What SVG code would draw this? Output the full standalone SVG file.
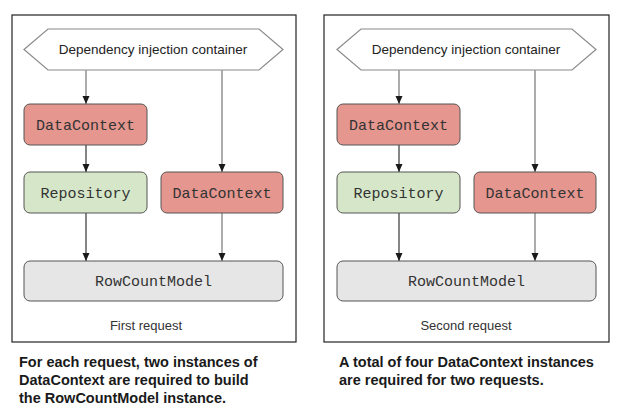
<svg xmlns="http://www.w3.org/2000/svg" width="628" height="411" viewBox="0 0 628 411">
<defs>
<marker id="ah" viewBox="0 0 8 10" refX="8" refY="5" markerWidth="8" markerHeight="10" markerUnits="userSpaceOnUse" orient="auto">
<path d="M0,1.5 L8,5 L0,8.5 Z" fill="#1a1a1a"/>
</marker>
</defs>
<style>
.frame{fill:#fff;stroke:#222;stroke-width:1.2}
.hex{fill:#fff;stroke:#8a8a8a;stroke-width:1.2}
.lbl{font-family:"Liberation Sans",Arial,sans-serif;font-size:13.5px;fill:#222;text-anchor:middle}
.cap{font-family:"Liberation Sans",Arial,sans-serif;font-size:13px;fill:#333;text-anchor:middle}
.mono{font-family:"Liberation Mono","Courier New",monospace;font-size:15px;fill:#333;text-anchor:middle}
.dc{fill:#e5968f;stroke:#555;stroke-width:1}
.rep{fill:#d6e7c9;stroke:#555;stroke-width:1}
.rcm{fill:#e6e6e6;stroke:#555;stroke-width:1}
.c{fill:none;stroke:#444;stroke-width:1.3;marker-end:url(#ah)}
.g{fill:none;stroke:#999;stroke-width:1.6;marker-end:url(#ah)}
.note{font-family:"Liberation Sans",Arial,sans-serif;font-size:14.5px;font-weight:bold;fill:#1a1a1a}
</style>
<g id="panel1">
<rect class="frame" x="12" y="15" width="284" height="327"/>
<g id="di1"><polygon class="hex" points="24,49.5 48,29 259,29 283,49.5 259,70 48,70"/><text class="lbl" x="153" y="54">Dependency injection container</text></g>
<g id="connectors1">
<line class="g" x1="86" y1="70" x2="86" y2="104"/>
<line class="g" x1="222" y1="70" x2="222" y2="172"/>
<line class="c" x1="86" y1="145" x2="86" y2="172"/>
<line class="c" x1="86" y1="213" x2="86" y2="261"/>
<line class="g" x1="222" y1="213" x2="222" y2="261"/>
</g>
<g id="dc1a"><rect class="dc" x="24" y="104" width="123" height="41" rx="6"/><text class="mono" x="85.5" y="129.5">DataContext</text></g>
<g id="rep1"><rect class="rep" x="24" y="172" width="123" height="41" rx="6"/><text class="mono" x="85.5" y="197.5">Repository</text></g>
<g id="dc1b"><rect class="dc" x="161" y="172" width="122" height="41" rx="6"/><text class="mono" x="222" y="197.5">DataContext</text></g>
<g id="rcm1"><rect class="rcm" x="24" y="261" width="259" height="40" rx="6"/><text class="mono" x="153.5" y="285.5">RowCountModel</text></g>
<text class="cap" x="146" y="330">First request</text>
</g>
<g id="panel2">
<rect class="frame" x="324" y="15" width="285" height="327"/>
<g id="di2"><polygon class="hex" points="337,49.5 361,29 572,29 596,49.5 572,70 361,70"/><text class="lbl" x="466" y="54">Dependency injection container</text></g>
<g id="connectors2">
<line class="g" x1="399" y1="70" x2="399" y2="104"/>
<line class="g" x1="535" y1="70" x2="535" y2="172"/>
<line class="c" x1="399" y1="145" x2="399" y2="172"/>
<line class="c" x1="399" y1="213" x2="399" y2="261"/>
<line class="g" x1="535" y1="213" x2="535" y2="261"/>
</g>
<g id="dc2a"><rect class="dc" x="337" y="104" width="123" height="41" rx="6"/><text class="mono" x="398.5" y="129.5">DataContext</text></g>
<g id="rep2"><rect class="rep" x="337" y="172" width="123" height="41" rx="6"/><text class="mono" x="398.5" y="197.5">Repository</text></g>
<g id="dc2b"><rect class="dc" x="474" y="172" width="122" height="41" rx="6"/><text class="mono" x="535" y="197.5">DataContext</text></g>
<g id="rcm2"><rect class="rcm" x="337" y="261" width="259" height="40" rx="6"/><text class="mono" x="466.5" y="285.5">RowCountModel</text></g>
<text class="cap" x="466" y="330">Second request</text>
</g>
<g id="notes">
<text class="note" x="19" y="367">For each request, two instances of</text>
<text class="note" x="19" y="385">DataContext are required to build</text>
<text class="note" x="19" y="403">the RowCountModel instance.</text>
<text class="note" x="339" y="367">A total of four DataContext instances</text>
<text class="note" x="339" y="385">are required for two requests.</text>
</g>
</svg>
